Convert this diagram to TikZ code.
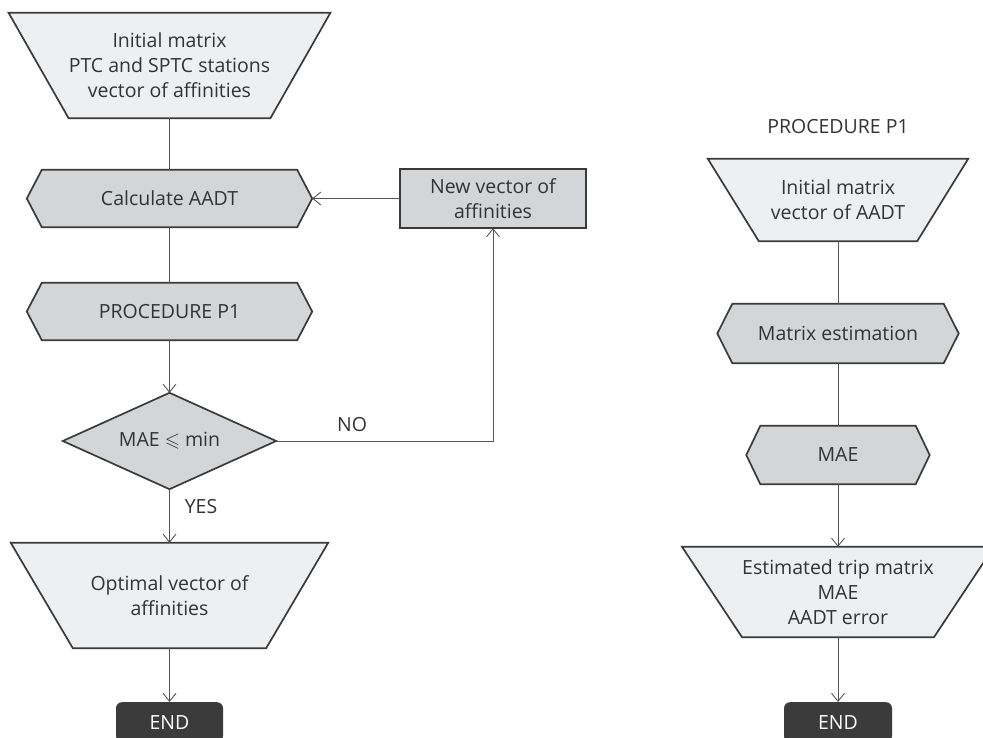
\documentclass[tikz,border=0pt]{standalone}
\usepackage{amssymb}
\usepackage{fontspec}
\setmainfont{Open Sans}
\usetikzlibrary{arrows.meta,calc,backgrounds}
\definecolor{lightfill}{HTML}{EEEFF0}
\definecolor{midfill}{HTML}{D4D5D7}
\definecolor{edge}{HTML}{3A3A3A}
\definecolor{txt}{HTML}{333333}
\definecolor{conn}{HTML}{555555}
\definecolor{endfill}{HTML}{3B3B3B}
\tikzset{
  box/.style={rectangle,inner sep=0pt,align=center,text=txt,font=\fontsize{19.5}{25}\selectfont},
  shp/.style={draw=edge,line width=1.7pt,line join=miter},
  conline/.style={draw=conn,line width=0.9pt},
  arr/.style={conline,-{Straight Barb[length=8pt,width=13pt,line width=0.9pt]}},
  lbl/.style={inner sep=0pt,text=txt,font=\fontsize{19.5}{25}\selectfont},
  endbox/.style={rectangle,fill=endfill,rounded corners=6pt,text=white,minimum width=107pt,minimum height=40pt,inner sep=0pt,text height=14pt,text depth=0pt,font=\fontsize{19.5}{25}\selectfont},
}
\begin{document}
\begin{tikzpicture}[x=1pt,y=-1pt]
\useasboundingbox (0,0) rectangle (983,738);
% ---------- left column ----------
\node[box,minimum width=195pt,minimum height=105pt] (init) at (169.5,65.5) {Initial matrix\\PTC and SPTC stations\\vector of affinities};
\node[box,minimum width=255pt,minimum height=57pt] (calc) at (169.5,198.5) {Calculate AADT};
\node[box,minimum width=255pt,minimum height=57pt] (proc) at (169.5,311.5) {PROCEDURE P1};
\node[box,minimum width=213pt,minimum height=96pt] (dia) at (169.5,441) {MAE $\leqslant$ min};
\node[box,minimum width=193pt,minimum height=105pt] (opt) at (169.5,595.5) {Optimal vector of\\affinities};
\node[box,minimum width=186pt,minimum height=59pt] (newv) at (493,198.5) {New vector of\\affinities};
% ---------- right column ----------
\node[lbl] (p1lbl) at (838,127) {PROCEDURE P1};
\node[box,minimum width=158pt,minimum height=82pt] (init2) at (838,200) {Initial matrix\\vector of AADT};
\node[box,minimum width=211pt,minimum height=59pt] (mest) at (838,333.5) {Matrix estimation};
\node[box,minimum width=155pt,minimum height=58pt] (mae) at (838,455) {MAE};
\node[box,minimum width=187pt,minimum height=90pt] (est) at (838,592) {Estimated trip matrix\\MAE\\AADT error};
% END boxes
\node[endbox,anchor=north] (end1) at (169.5,702) {END};
\node[endbox,anchor=north,minimum width=108pt] (end2) at (838,702) {END};
% labels
\node[lbl] (yes) at (201,507) {YES};
\node[lbl] (no) at (352,425) {NO};
% ---------- shapes (behind text) ----------
\begin{scope}[on background layer]
\path[shp,fill=lightfill] ([xshift=-60pt]init.north west) -- ([xshift=60pt]init.north east) -- (init.south east) -- (init.south west) -- cycle;
\path[shp,fill=midfill] (calc.north west) -- (calc.north east) -- ([xshift=15pt]calc.east) coordinate (calc-r) -- (calc.south east) -- (calc.south west) -- ([xshift=-15pt]calc.west) -- cycle;
\path[shp,fill=midfill] (proc.north west) -- (proc.north east) -- ([xshift=15pt]proc.east) -- (proc.south east) -- (proc.south west) -- ([xshift=-15pt]proc.west) -- cycle;
\path[shp,fill=midfill] (dia.north) -- (dia.east) -- (dia.south) -- (dia.west) -- cycle;
\path[shp,fill=lightfill] ([xshift=-62pt]opt.north west) -- ([xshift=62pt]opt.north east) -- (opt.south east) -- (opt.south west) -- cycle;
\path[shp,fill=midfill] (newv.north west) rectangle (newv.south east);
\path[shp,fill=lightfill] ([xshift=-51pt]init2.north west) -- ([xshift=51pt]init2.north east) -- (init2.south east) -- (init2.south west) -- cycle;
\path[shp,fill=midfill] (mest.north west) -- (mest.north east) -- ([xshift=15pt]mest.east) -- (mest.south east) -- (mest.south west) -- ([xshift=-15pt]mest.west) -- cycle;
\path[shp,fill=midfill] (mae.north west) -- (mae.north east) -- ([xshift=14pt]mae.east) -- (mae.south east) -- (mae.south west) -- ([xshift=-14pt]mae.west) -- cycle;
\path[shp,fill=lightfill] ([xshift=-60pt]est.north west) -- ([xshift=60pt]est.north east) -- (est.south east) -- (est.south west) -- cycle;
\end{scope}
% ---------- connectors ----------
\draw[conline] (init.south) -- (calc.north);
\draw[conline] (calc.south) -- (proc.north);
\draw[arr] (proc.south) -- (dia.north);
\draw[arr] (dia.south) -- (opt.north);
\draw[arr] (opt.south) -- (end1.north);
\draw[arr] (newv.west) -- (calc-r);
\draw[arr] (dia.east) -| (newv.south);
\draw[conline] (init2.south) -- (mest.north);
\draw[conline] (mest.south) -- (mae.north);
\draw[arr] (mae.south) -- (est.north);
\draw[arr] (est.south) -- (end2.north);
\end{tikzpicture}
\end{document}
